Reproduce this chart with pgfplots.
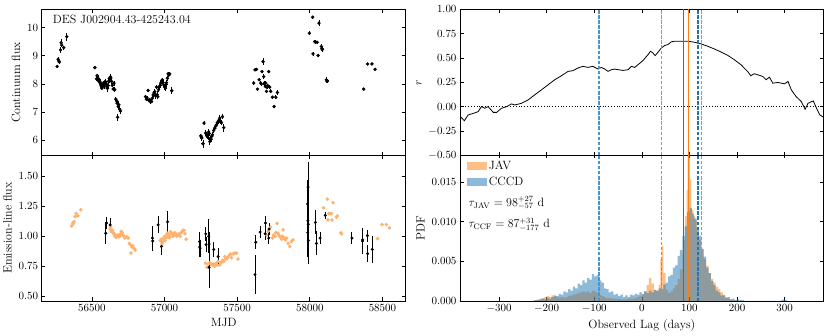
\documentclass[border=0pt]{standalone}
\usepackage{pgfplots}
\usepackage{pgfplotstable}
\pgfplotsset{compat=1.18}
\definecolor{tabblue}{HTML}{1F77B4}
\definecolor{taborange}{HTML}{FF7F0E}
\definecolor{lightblue}{HTML}{4A95CC}
\pgfplotstableread[row sep=\\]{
y\\ -0.500\\ -0.464\\ nan\\ -0.448\\ -0.412\\ nan\\ -0.396\\ -0.360\\ nan\\ -0.344\\ -0.308\\ nan\\
-0.292\\ -0.256\\ nan\\ -0.240\\ -0.204\\ nan\\ -0.188\\ -0.152\\ nan\\ -0.136\\ -0.100\\ nan\\
-0.084\\ -0.048\\ nan\\ -0.032\\ 0.004\\ nan\\ 0.020\\ 0.056\\ nan\\ 0.072\\ 0.108\\ nan\\
0.124\\ 0.160\\ nan\\ 0.176\\ 0.212\\ nan\\ 0.228\\ 0.264\\ nan\\ 0.280\\ 0.316\\ nan\\
0.332\\ 0.368\\ nan\\ 0.384\\ 0.420\\ nan\\ 0.436\\ 0.472\\ nan\\ 0.488\\ 0.524\\ nan\\
0.540\\ 0.576\\ nan\\ 0.592\\ 0.628\\ nan\\ 0.644\\ 0.680\\ nan\\ 0.696\\ 0.732\\ nan\\
0.748\\ 0.784\\ nan\\ 0.800\\ 0.836\\ nan\\ 0.852\\ 0.888\\ nan\\ 0.904\\ 0.940\\ nan\\
0.956\\ 0.992\\
}\dashtop
\pgfplotstableread[row sep=\\]{
y\\ 0.00000\\ 0.00044\\ nan\\ 0.00064\\ 0.00108\\ nan\\ 0.00128\\ 0.00172\\ nan\\ 0.00191\\ 0.00235\\ nan\\
0.00255\\ 0.00299\\ nan\\ 0.00319\\ 0.00363\\ nan\\ 0.00383\\ 0.00427\\ nan\\ 0.00447\\ 0.00491\\ nan\\
0.00510\\ 0.00554\\ nan\\ 0.00574\\ 0.00618\\ nan\\ 0.00638\\ 0.00682\\ nan\\ 0.00702\\ 0.00746\\ nan\\
0.00766\\ 0.00810\\ nan\\ 0.00829\\ 0.00873\\ nan\\ 0.00893\\ 0.00937\\ nan\\ 0.00957\\ 0.01001\\ nan\\
0.01021\\ 0.01065\\ nan\\ 0.01085\\ 0.01129\\ nan\\ 0.01148\\ 0.01192\\ nan\\ 0.01212\\ 0.01256\\ nan\\
0.01276\\ 0.01320\\ nan\\ 0.01340\\ 0.01384\\ nan\\ 0.01404\\ 0.01448\\ nan\\ 0.01467\\ 0.01511\\ nan\\
0.01531\\ 0.01575\\ nan\\ 0.01595\\ 0.01639\\ nan\\ 0.01659\\ 0.01703\\ nan\\ 0.01723\\ 0.01767\\ nan\\
0.01786\\ 0.01830\\
}\dashbot
\begin{document}
\begin{tikzpicture}
\useasboundingbox (0,0) rectangle (830pt,336pt);
\fill[white] (0,0) rectangle (830pt,336pt);
\pgfplotsset{
  every axis/.append style={
    scale only axis, anchor=south west,
    tick align=inside, major tick length=3.5pt,
    tick label style={font=\fontsize{10.5}{12}\selectfont},
    label style={font=\fontsize{12}{14}\selectfont},
    axis line style={line width=0.7pt},
    every tick/.style={black, line width=0.6pt},
  },
  lagd/.style={forget plot, line width=1.1pt, unbounded coords=jump, line cap=butt},
}
% ---------------- top-left: continuum ----------------
\begin{axis}[at={(41.7pt,180.7pt)}, width=364pt, height=146pt,
  xmin=56155, xmax=58660, ymin=5.47, ymax=10.65,
  xtick={56500,57000,57500,58000,58500}, xticklabels=\empty, scaled x ticks=false,
  ytick={6,7,8,9,10}, ylabel={Continuum flux}]
\addplot[only marks, mark=*, mark size=1.5pt, black,
  error bars/.cd, y dir=both, y explicit, error mark=none,
  error bar style={line width=0.8pt, black}]
  table[x=t, y=f, y error=e] {
t f e
56261 8.62 0.07
56268 8.88 0.08
56272 8.82 0.07
56276 8.78 0.07
56285 9.21 0.10
56289 9.46 0.12
56293 9.38 0.08
56307 9.29 0.07
56328 9.68 0.14
56521 8.58 0.05
56532 8.18 0.08
56536 8.30 0.07
56539 8.26 0.08
56543 8.20 0.06
56546 8.11 0.08
56551 8.15 0.07
56555 8.09 0.08
56559 8.03 0.07
56562 7.97 0.07
56566 7.90 0.08
56569 7.85 0.07
56574 7.95 0.08
56578 8.03 0.08
56582 7.98 0.10
56585 7.91 0.08
56589 8.00 0.07
56592 8.09 0.08
56597 8.02 0.09
56601 7.97 0.10
56605 7.86 0.08
56608 7.85 0.12
56612 7.95 0.08
56615 8.09 0.09
56620 8.20 0.10
56624 8.15 0.12
56628 8.25 0.10
56631 8.21 0.08
56636 8.09 0.08
56640 7.95 0.07
56647 7.82 0.08
56653 8.03 0.09
56658 7.80 0.08
56665 7.46 0.08
56670 7.40 0.08
56674 7.32 0.09
56677 6.82 0.13
56682 7.20 0.10
56686 7.26 0.13
56692 7.10 0.10
56697 7.04 0.12
56869 7.55 0.06
56876 7.46 0.07
56880 7.50 0.06
56887 7.77 0.06
56892 7.42 0.06
56899 7.44 0.07
56905 7.36 0.06
56911 7.38 0.07
56917 7.50 0.06
56922 7.61 0.08
56928 7.68 0.07
56933 7.73 0.08
56938 7.58 0.10
56945 7.89 0.08
56950 7.62 0.12
56954 7.55 0.10
56959 7.80 0.08
56963 7.89 0.07
56970 7.95 0.08
56975 8.03 0.08
56980 8.10 0.08
56986 8.15 0.07
56990 8.05 0.08
56995 7.97 0.08
57000 7.90 0.10
57007 7.85 0.10
57011 7.98 0.09
57014 8.05 0.08
57020 8.20 0.09
57025 8.36 0.08
57030 8.32 0.08
57036 8.36 0.08
57050 7.76 0.12
57250 6.16 0.07
57254 6.12 0.08
57257 6.08 0.09
57265 5.88 0.14
57272 6.61 0.06
57284 6.26 0.10
57289 6.22 0.09
57294 6.14 0.10
57300 6.10 0.10
57304 6.30 0.12
57307 6.24 0.10
57312 5.96 0.12
57317 6.06 0.10
57321 6.04 0.10
57326 6.15 0.09
57330 6.20 0.09
57338 6.35 0.08
57346 6.43 0.09
57352 6.50 0.08
57358 6.55 0.08
57363 6.62 0.09
57369 6.67 0.09
57375 6.72 0.09
57380 6.79 0.10
57386 6.68 0.09
57392 6.63 0.09
57399 6.84 0.10
57408 6.45 0.14
57614 8.03 0.06
57623 8.50 0.05
57633 8.52 0.05
57640 7.82 0.05
57651 8.15 0.06
57662 8.03 0.06
57666 8.00 0.06
57671 8.44 0.06
57678 8.79 0.12
57683 8.26 0.08
57687 8.00 0.06
57690 8.05 0.07
57694 7.91 0.06
57697 8.03 0.07
57702 7.74 0.06
57706 7.88 0.06
57711 7.94 0.06
57717 8.44 0.05
57724 7.89 0.06
57731 7.74 0.07
57743 7.53 0.06
57754 7.20 0.05
57766 7.53 0.08
57777 7.70 0.10
57997 9.80 0.08
58020 10.37 0.05
58022 9.07 0.08
58034 9.50 0.06
58039 9.49 0.06
58050 9.48 0.06
58057 9.01 0.07
58063 10.16 0.10
58080 9.33 0.10
58083 9.25 0.09
58087 9.23 0.08
58114 8.15 0.10
58118 8.10 0.08
58121 8.11 0.07
58371 7.82 0.04
58398 8.71 0.04
58428 8.71 0.04
58449 8.52 0.04
};
\node[anchor=north west, inner sep=0pt, font=\fontsize{12}{14}\selectfont]
  at (rel axis cs:0.03,0.965) {DES J002904.43-425243.04};
\end{axis}
% ---------------- bottom-left: emission ----------------
\begin{axis}[at={(41.7pt,35pt)}, width=364pt, height=145.7pt,
  xmin=56155, xmax=58660, ymin=0.46, ymax=1.675,
  xtick={56500,57000,57500,58000,58500}, scaled x ticks=false,
  xticklabel style={/pgf/number format/1000 sep={}},
  ytick={0.5,0.75,1,1.25,1.5},
  yticklabel style={/pgf/number format/.cd, fixed, fixed zerofill, precision=2},
  xlabel={MJD}, ylabel={Emission-line flux}]
\addplot[only marks, mark=*, mark size=1.6pt, draw=none,
  mark options={draw=taborange!60, fill=taborange!60}]
  table[x=t, y=f] {
t f
56362 1.086
56369 1.113
56373 1.105
56378 1.122
56385 1.163
56392 1.19
56404 1.169
56424 1.22
56626 1.06
56630 1.08
56635 1.04
56641 1.05
56647 1.03
56652 1.02
56658 1.00
56663 1.01
56669 0.99
56675 1.00
56680 1.01
56686 0.995
56692 1.00
56697 1.02
56703 1.04
56708 1.03
56714 1.01
56720 1.00
56727 0.985
56740 0.995
56750 0.985
56758 0.94
56764 0.93
56770 0.86
56776 0.91
56782 0.92
56790 0.90
56798 0.885
56972 0.964
56977 0.975
56983 0.936
56988 0.955
56994 0.983
56999 0.997
57004 0.964
57010 0.99
57015 1.011
57020 1.025
57026 0.99
57031 1.011
57036 0.99
57042 1.039
57047 1.025
57052 1.02
57058 1.00
57063 1.01
57070 1.03
57078 1.02
57085 1.00
57092 1.01
57100 1.02
57108 1.00
57115 1.03
57122 1.04
57128 1.05
57135 1.05
57141 1.02
57149 0.975
57282 0.775
57293 0.742
57300 0.77
57312 0.78
57320 0.765
57330 0.76
57338 0.77
57346 0.75
57352 0.765
57358 0.775
57364 0.76
57369 0.79
57380 0.76
57390 0.78
57399 0.80
57408 0.79
57415 0.83
57422 0.81
57430 0.815
57440 0.83
57449 0.843
57455 0.85
57461 0.82
57472 0.853
57485 0.86
57495 0.858
57506 0.81
57702 1.01
57713 1.04
57720 1.06
57729 1.075
57743 0.985
57752 1.01
57760 1.00
57766 1.03
57775 1.108
57781 1.025
57787 1.01
57793 0.997
57800 0.99
57805 0.975
57810 1.00
57816 1.053
57822 0.99
57828 0.975
57834 0.97
57840 0.983
57851 0.94
57862 0.914
57873 0.955
57884 0.969
58094 1.238
58121 1.31
58125 1.136
58130 1.19
58139 1.19
58149 1.19
58153 1.136
58160 1.28
58183 1.16
58190 1.17
58213 1.03
58219 1.02
58467 0.98
58497 1.097
58527 1.097
58548 1.07
};
\addplot[only marks, mark=*, mark size=1.3pt, black,
  error bars/.cd, y dir=both, y explicit, error mark=none,
  error bar style={line width=0.9pt, black}]
  table[x=t, y=f, y error=e] {
t f e
56596 1.025 0.09
56601 1.11 0.05
56626 1.095 0.06
56917 0.985 0.10
56919 0.96 0.08
56956 1.095 0.07
56979 0.915 0.07
57021 1.12 0.09
57241 0.955 0.08
57243 0.91 0.08
57245 0.90 0.07
57284 1.02 0.06
57286 0.93 0.06
57305 1.00 0.14
57307 0.74 0.17
57307 0.935 0.10
57339 0.89 0.06
57369 0.83 0.07
57623 0.68 0.16
57628 0.95 0.06
57658 1.035 0.05
57693 1.02 0.05
57695 1.11 0.06
57718 0.985 0.05
57720 1.06 0.05
57985 1.27 0.20
57986 1.03 0.20
57987 1.13 0.20
57988 1.41 0.21
57989 1.10 0.20
57990 0.965 0.20
58039 1.115 0.10
58046 0.94 0.10
58071 0.985 0.05
58106 1.175 0.03
58290 0.985 0.05
58362 0.96 0.11
58364 0.97 0.08
58396 1.005 0.05
58398 0.855 0.07
58430 0.89 0.11
};
\end{axis}
% ---------------- top-right: CCF ----------------
\begin{axis}[at={(460pt,180.7pt)}, width=363.7pt, height=146pt,
  xmin=-382, xmax=382, ymin=-0.5, ymax=1,
  xtick={-300,-200,-100,0,100,200,300}, xticklabels=\empty,
  ytick={-0.5,-0.25,0,0.25,0.5,0.75,1},
  yticklabel style={/pgf/number format/.cd, fixed, fixed zerofill, precision=2},
  ylabel={$r$}]
\addplot[black, line width=0.8pt, dotted, forget plot] coordinates {(-400,0) (400,0)};
\addplot[black, line width=0.8pt] coordinates {
(-382,-0.097) (-373,-0.145) (-365,-0.086) (-354,-0.069) (-344,-0.052) (-337,0.000)
(-330,-0.017) (-323,0.000) (-312,-0.059) (-305,-0.059) (-295,-0.017) (-284,0.000)
(-274,0.028) (-267,0.017) (-253,0.034) (-239,0.069) (-225,0.121) (-211,0.172)
(-197,0.224) (-183,0.276) (-169,0.317) (-155,0.362) (-145,0.369) (-134,0.397)
(-124,0.414) (-113,0.403) (-103,0.414) (-92,0.386) (-85,0.403) (-78,0.386)
(-71,0.362) (-64,0.379) (-57,0.386) (-49,0.379) (-40,0.372) (-29,0.379)
(-22,0.414) (-15,0.403) (-8,0.431) (2,0.472) (13,0.534) (18,0.569)
(23,0.552) (28,0.524) (34,0.559) (41,0.603) (48,0.628) (55,0.638)
(62,0.666) (69,0.672) (83,0.672) (97,0.672) (110,0.662) (124,0.645)
(138,0.621) (152,0.593) (166,0.562) (180,0.528) (194,0.483) (208,0.431)
(222,0.362) (229,0.317) (236,0.338) (243,0.328) (254,0.310) (261,0.276)
(268,0.303) (275,0.241) (286,0.248) (293,0.241) (300,0.234) (307,0.259)
(314,0.172) (324,0.103) (335,0.052) (343,-0.028) (349,0.034) (360,0.059)
(367,-0.017) (374,-0.086) (382,-0.110)};
\addplot[forget plot, draw=tabblue, line width=1.3pt] coordinates {(87,-1) (87,2)};
\addplot[forget plot, draw=taborange, line width=1.3pt] coordinates {(98,-1) (98,2)};
\addplot[lagd, draw=lightblue] table[x expr=-90, y=y] {\dashtop};
\addplot[lagd, draw=tabblue] table[x expr=118, y=y] {\dashtop};
\addplot[lagd, draw=taborange] table[x expr=41, y=y] {\dashtop};
\addplot[lagd, draw=taborange] table[x expr=125, y=y] {\dashtop};
\end{axis}
% ---------------- bottom-right: PDFs ----------------
\begin{axis}[at={(460pt,35pt)}, width=363.7pt, height=146pt,
  xmin=-382, xmax=382, ymin=0, ymax=0.0184,
  xtick={-300,-200,-100,0,100,200,300},
  ytick={0,0.005,0.010,0.015}, scaled y ticks=false,
  yticklabel style={/pgf/number format/.cd, fixed, fixed zerofill, precision=3},
  xlabel={Observed Lag (days)}, ylabel={PDF},
  legend style={at={(0.01,0.985)}, anchor=north west, draw=none, fill=none,
    font=\fontsize{12}{14}\selectfont, row sep=1.5pt},
  legend cell align=left,
  legend image code/.code={\draw[#1, draw=none] (0pt,-4pt) rectangle (20pt,4pt);}]
\addplot[const plot, fill=taborange, fill opacity=0.5, draw=none] coordinates {
(-230,0) (-225,0.0001) (-220,0.0002) (-215,0.0003) (-210,0.0004) (-205,0.0005)
(-200,0.0006) (-195,0.0005) (-190,0.0007) (-185,0.0006) (-180,0.0005) (-175,0.0004)
(-170,0.0005) (-165,0.0004) (-160,0.0005) (-155,0.0006) (-150,0.0007) (-145,0.0008)
(-140,0.0009) (-135,0.0010) (-130,0.0011) (-125,0.0012) (-120,0.0011) (-115,0.0012)
(-110,0.0010) (-105,0.0013) (-100,0.0012) (-95,0.0010) (-90,0.0008) (-85,0.0006)
(-80,0.0005) (-75,0.0004) (-70,0.0004) (-65,0.0003) (-60,0.0003) (-55,0.0003)
(-50,0.0003) (-45,0.0002) (-40,0.0002) (-35,0.0002) (-30,0.0003) (-25,0.0003)
(-20,0.0003) (-15,0.0004) (-10,0.0005) (-5,0.0006) (0,0.0008) (5,0.0012)
(10,0.0020) (15,0.0029) (20,0.0022) (25,0.0014) (30,0.0013) (35,0.0020)
(39,0.0052) (42,0.0069) (45,0.0035) (50,0.0014) (55,0.0010) (60,0.0012)
(65,0.0016) (70,0.0020) (75,0.0028) (80,0.0040) (85,0.0060) (88,0.0077)
(91,0.0107) (94,0.0140) (96,0.0190) (101,0.0153) (104,0.0115) (108,0.0107)
(112,0.0102) (116,0.0086) (120,0.0077) (125,0.0065) (130,0.0053) (135,0.0044)
(140,0.0035) (145,0.0028) (150,0.0023) (155,0.0018) (160,0.0015) (165,0.0011)
(170,0.0008) (175,0.0005) (180,0.0003) (185,0.0002) (190,0.0001) (195,0.0001)
(200,0) (205,0)} \closedcycle;
\addlegendentry{JAV}
\addplot[const plot, fill=tabblue, fill opacity=0.5, draw=none] coordinates {
(-230,0) (-225,0.0001) (-220,0.0001) (-215,0.0002) (-210,0.0003) (-205,0.0002)
(-200,0.0004) (-195,0.0003) (-190,0.0005) (-185,0.0007) (-180,0.0006) (-175,0.0009)
(-170,0.0008) (-165,0.0012) (-160,0.0011) (-155,0.0015) (-150,0.0013) (-145,0.0018)
(-140,0.0016) (-135,0.0022) (-130,0.0020) (-125,0.0026) (-120,0.0023) (-115,0.0029)
(-110,0.0027) (-105,0.0034) (-100,0.0031) (-95,0.0033) (-90,0.0026) (-85,0.0023)
(-80,0.0016) (-75,0.0015) (-70,0.0011) (-65,0.0012) (-60,0.0008) (-55,0.0009)
(-50,0.0006) (-45,0.0008) (-40,0.0005) (-35,0.0007) (-30,0.0005) (-25,0.0008)
(-20,0.0007) (-15,0.0009) (-10,0.0008) (-5,0.0011) (0,0.0009) (5,0.0012)
(10,0.0010) (15,0.0013) (20,0.0011) (25,0.0014) (30,0.0013) (35,0.0016)
(40,0.0015) (45,0.0021) (50,0.0023) (55,0.0031) (60,0.0033) (65,0.0042)
(70,0.0045) (75,0.0057) (80,0.0064) (85,0.0082) (90,0.0094) (95,0.0112)
(100,0.0117) (105,0.0110) (110,0.0104) (115,0.0091) (120,0.0082) (125,0.0066)
(130,0.0056) (135,0.0042) (140,0.0035) (145,0.0025) (150,0.0020) (155,0.0013)
(160,0.0011) (165,0.0007) (170,0.0007) (175,0.0004) (180,0.0005) (185,0.0002)
(190,0.0003) (195,0.0001) (200,0.0002) (205,0.0001) (210,0.0001) (215,0)
(290,0) (293,0.0001) (297,0.0002) (301,0.0001) (305,0) (310,0)} \closedcycle;
\addlegendentry{CCCD}
\addplot[forget plot, draw=tabblue, line width=1.3pt] coordinates {(87,0) (87,0.03)};
\addplot[forget plot, draw=taborange, line width=1.3pt] coordinates {(98,0) (98,0.03)};
\addplot[lagd, draw=lightblue] table[x expr=-90, y=y] {\dashbot};
\addplot[lagd, draw=tabblue] table[x expr=118, y=y] {\dashbot};
\addplot[lagd, draw=taborange] table[x expr=41, y=y] {\dashbot};
\addplot[lagd, draw=taborange] table[x expr=125, y=y] {\dashbot};
\node[anchor=west, inner sep=0pt, font=\fontsize{12}{14}\selectfont]
  at (rel axis cs:0.023,0.671) {$\tau_{\rm JAV}=98^{+27}_{-57}$ d};
\node[anchor=west, inner sep=0pt, font=\fontsize{12}{14}\selectfont]
  at (rel axis cs:0.023,0.523) {$\tau_{\rm CCF}=87^{+31}_{-177}$ d};
\end{axis}
\end{tikzpicture}
\end{document}
